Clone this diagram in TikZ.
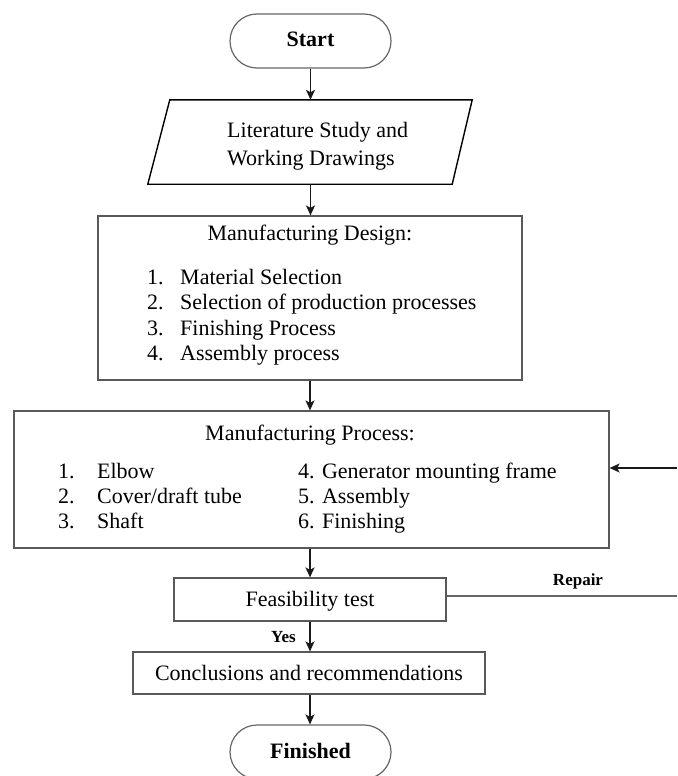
\documentclass[tikz,border=0pt]{standalone}
\usepackage{fontspec}
\setmainfont{Liberation Serif}
\usetikzlibrary{arrows.meta}
\begin{document}
\begin{tikzpicture}[x=1pt,y=-1pt,
  pill/.style={draw=black!60, line width=1.2pt, rounded corners=27pt, minimum width=161pt, minimum height=54pt, inner sep=0pt, font=\fontsize{22}{26}\selectfont\bfseries, text height=14pt, text depth=2pt},
  frame/.style={draw=black!65, line width=1.2pt, inner sep=0pt},
  txt/.style={inner sep=0pt, font=\fontsize{22}{28}\selectfont, text height=15pt, text depth=1pt},
  small/.style={inner sep=0pt, font=\fontsize{17}{20}\selectfont\bfseries, text height=11pt, text depth=1pt},
  arr/.style={draw=black!90, line width=1.5pt, -{Stealth[length=10pt,width=9pt,inset=2.5pt]}},
  plain/.style={draw=black!60, line width=1.1pt}]
\useasboundingbox (0,0) rectangle (677,776);
% Start
\node[pill] (start) at (310.5,41) {Start};
% Literature (parallelogram)
\node[minimum width=303pt, minimum height=84pt, inner sep=0pt] (lit) at (310.5,142) {};
\draw[black, line width=1.4pt] ([xshift=-11pt]lit.south west) -- ([xshift=11pt]lit.north west) -- ([xshift=10pt]lit.north east) -- ([xshift=-10pt]lit.south east) -- cycle;
\node[txt, anchor=west, align=left] (litT) at (227,158) {Literature Study and\\Working Drawings};
% Manufacturing design
\node[frame, minimum width=424pt, minimum height=164pt] (des) at (310,298) {};
\node[txt] (desT) at (310,233) {Manufacturing Design:};
\node[txt, anchor=west] (d1) at (147,277) {\makebox[33pt][l]{1.}Material Selection};
\node[txt, anchor=west] (d2) at (147,302) {\makebox[33pt][l]{2.}Selection of production processes};
\node[txt, anchor=west] (d3) at (147,328) {\makebox[33pt][l]{3.}Finishing Process};
\node[txt, anchor=west] (d4) at (147,353) {\makebox[33pt][l]{4.}Assembly process};
% Manufacturing process
\node[frame, minimum width=595pt, minimum height=137pt] (proc) at (311.5,479.5) {};
\node[txt] (procT) at (310,433) {Manufacturing Process:};
\node[txt, anchor=west] (p1) at (58,471) {\makebox[39pt][l]{1.}Elbow};
\node[txt, anchor=west] (p2) at (58,496) {\makebox[39pt][l]{2.}Cover/draft tube};
\node[txt, anchor=west] (p3) at (58,521) {\makebox[39pt][l]{3.}Shaft};
\node[txt, anchor=west] (p4) at (298,471) {4. Generator mounting frame};
\node[txt, anchor=west] (p5) at (298,496) {5. Assembly};
\node[txt, anchor=west] (p6) at (298,521) {6. Finishing};
% Feasibility
\node[frame, txt, draw=black!65, line width=1.2pt, minimum width=272pt, minimum height=43pt] (feas) at (310,599.5) {Feasibility test};
% Conclusions
\node[frame, txt, draw=black!65, line width=1.2pt, minimum width=352pt, minimum height=42pt] (conc) at (309,673) {Conclusions and recommendations};
% Finished
\node[pill] (fin) at (310.5,752) {Finished};
% labels
\node[small, anchor=east] (yes) at (296,637) {Yes};
\node[small] (rep) at (578,580) {Repair};
% connectors
\draw[arr] (start.south) -- (start.south |- lit.north);
\draw[arr] (lit.south) -- (lit.south |- des.north);
\draw[arr] (des.south) -- (des.south |- proc.north);
\draw[arr] (des.south |- proc.south) -- (des.south |- feas.north);
\draw[arr] (feas.south) -- (feas.south |- conc.north);
\draw[arr] (feas.south |- conc.south) -- (feas.south |- fin.north);
\coordinate (edgeR) at (677,596);
\draw[plain] (feas.east |- edgeR) -- (edgeR);
\coordinate (fbR) at (677,468);
\draw[arr] (fbR) -- (fbR -| proc.east);
\end{tikzpicture}
\end{document}
